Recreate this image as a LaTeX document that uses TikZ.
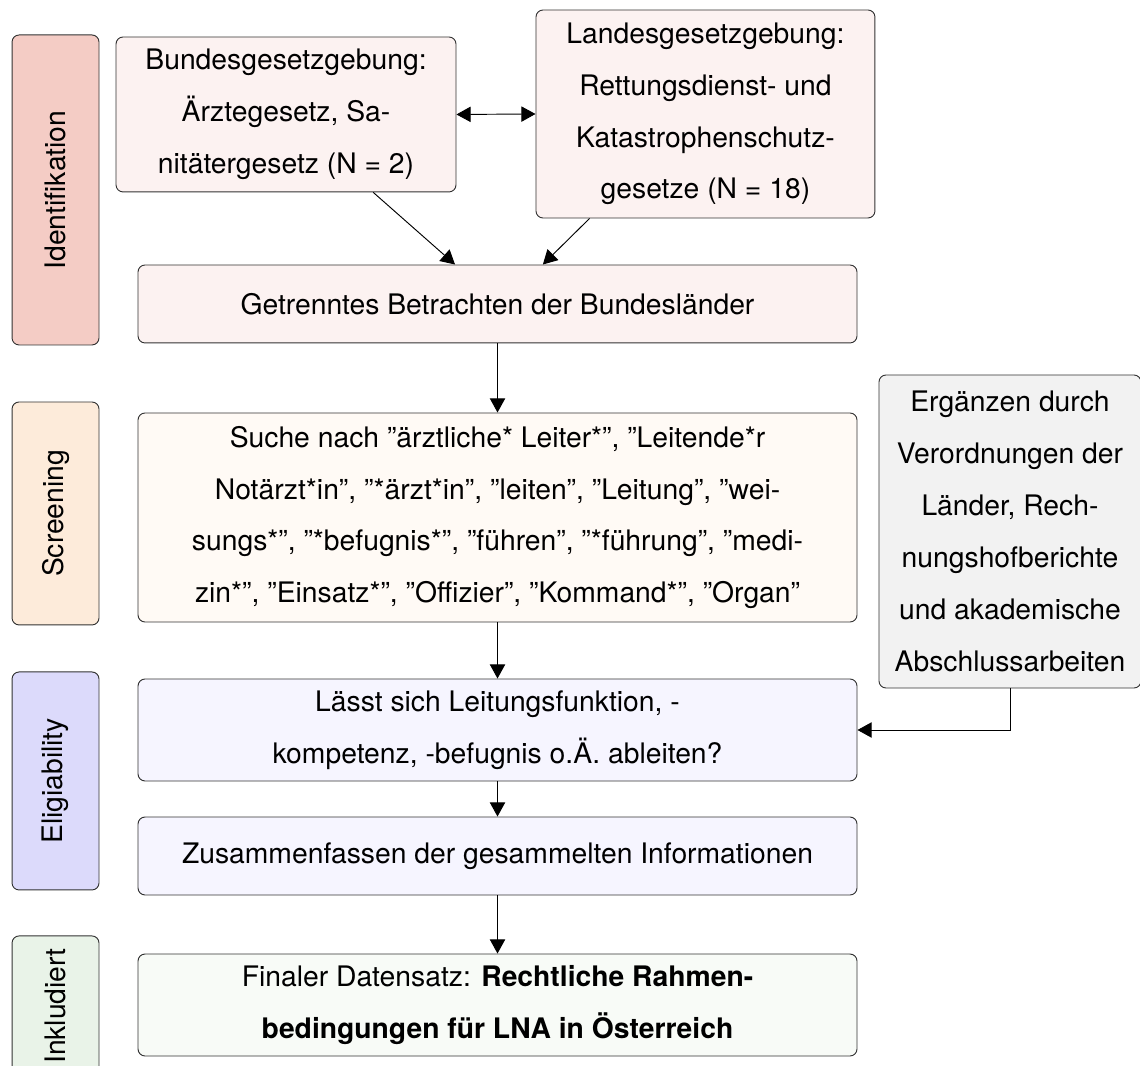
\documentclass[tikz,border=0pt]{standalone}
\usepackage{fontspec}
\setmainfont{TeX Gyre Heros}
\usetikzlibrary{arrows.meta,calc}
\definecolor{idfill}{HTML}{F4CCC5}
\definecolor{scrfill}{HTML}{FDEBDA}
\definecolor{elifill}{HTML}{DCDAFB}
\definecolor{inkfill}{HTML}{E9F3E8}
\definecolor{idlight}{HTML}{FCF2F1}
\definecolor{scrlight}{HTML}{FFFAF5}
\definecolor{elilight}{HTML}{F6F5FF}
\definecolor{inklight}{HTML}{F8FBF7}
\definecolor{extra}{HTML}{F2F2F2}
\begin{document}
\begin{tikzpicture}[
    phase/.style={draw=black!80, rounded corners=3pt, rotate=90, minimum height=1.297cm, font=\fontsize{12}{22}\selectfont},
    box/.style={draw=black!80, rounded corners=3pt, align=center, inner sep=2pt, font=\fontsize{12}{22}\selectfont},
    >={Triangle[length=6pt,width=6.5pt]}]
    \useasboundingbox (0,0) rectangle (17,-15.896);

    % phases
    \node[phase, fill=idfill, minimum width=4.623cm] (idph) at (0.828,-2.833) {Identifikation};
    \node[phase, fill=scrfill, minimum width=3.325cm] (scrph) at (0.828,-7.657) {Screening};
    \node[phase, fill=elifill, minimum width=3.251cm] (eliph) at (0.828,-11.646) {Eligiability};
    \node[phase, fill=inkfill, minimum width=2.088cm] (inkph) at (0.828,-15.001) {Inkludiert};

    % boxes
    \node[box, fill=idlight, minimum width=5.070cm, minimum height=2.311cm] (bund) at (4.265,-1.707) {Bundesgesetzgebung:\\Ärztegesetz, Sa-\\nitätergesetz (N = 2)};
    \node[box, fill=idlight, minimum width=5.055cm, minimum height=3.102cm] (land) at (10.520,-1.700) {Landesgesetzgebung:\\Rettungsdienst- und\\Katastrophenschutz-\\gesetze (N = 18)};
    \node[box, fill=idlight, minimum width=10.722cm, minimum height=1.163cm] (getr) at (7.419,-4.533) {Getrenntes Betrachten der Bundesländer};
    \node[box, fill=scrlight, minimum width=10.722cm, minimum height=3.117cm] (suche) at (7.419,-7.717) {Suche nach ”ärztliche* Leiter*”, ”Leitende*r\\Notärzt*in”, ”*ärzt*in”, ”leiten”, ”Leitung”, ”wei-\\sungs*”, ”*befugnis*”, ”führen”, ”*führung”, ”medi-\\zin*”, ”Einsatz*”, ”Offizier”, ”Kommand*”, ”Organ”};
    \node[box, fill=extra, minimum width=3.907cm, minimum height=4.668cm] (erg) at (15.061,-7.926) {Ergänzen durch\\Verordnungen der\\Länder, Rech-\\nungshofberichte\\und akademische\\Abschlussarbeiten};
    \node[box, fill=elilight, minimum width=10.722cm, minimum height=1.521cm] (laesst) at (7.419,-10.886) {Lässt sich Leitungsfunktion, -\\kompetenz, -befugnis o.Ä. ableiten?};
    \node[box, fill=elilight, minimum width=10.722cm, minimum height=1.163cm] (zus) at (7.419,-12.765) {Zusammenfassen der gesammelten Informationen};
    \node[box, fill=inklight, minimum width=10.722cm, minimum height=1.521cm] (final) at (7.419,-14.987) {Finaler Datensatz: \textbf{Rechtliche Rahmen-}\\\textbf{bedingungen für LNA in Österreich}};

    % arrows
    \draw[<->] (bund.east) -- (land.west);
    \draw[->] ($(bund.south west)!0.756!(bund.south east)$) -- ($(getr.north west)!0.441!(getr.north east)$);
    \draw[->] ($(land.south west)!0.159!(land.south east)$) -- ($(getr.north west)!0.563!(getr.north east)$);
    \draw[->] (getr) -- (suche);
    \draw[->] (suche) -- (laesst);
    \draw[->] (laesst) -- (zus);
    \draw[->] (zus) -- (final);
    \draw[->] (erg.south) |- (laesst.east);

  \end{tikzpicture}
\end{document}
